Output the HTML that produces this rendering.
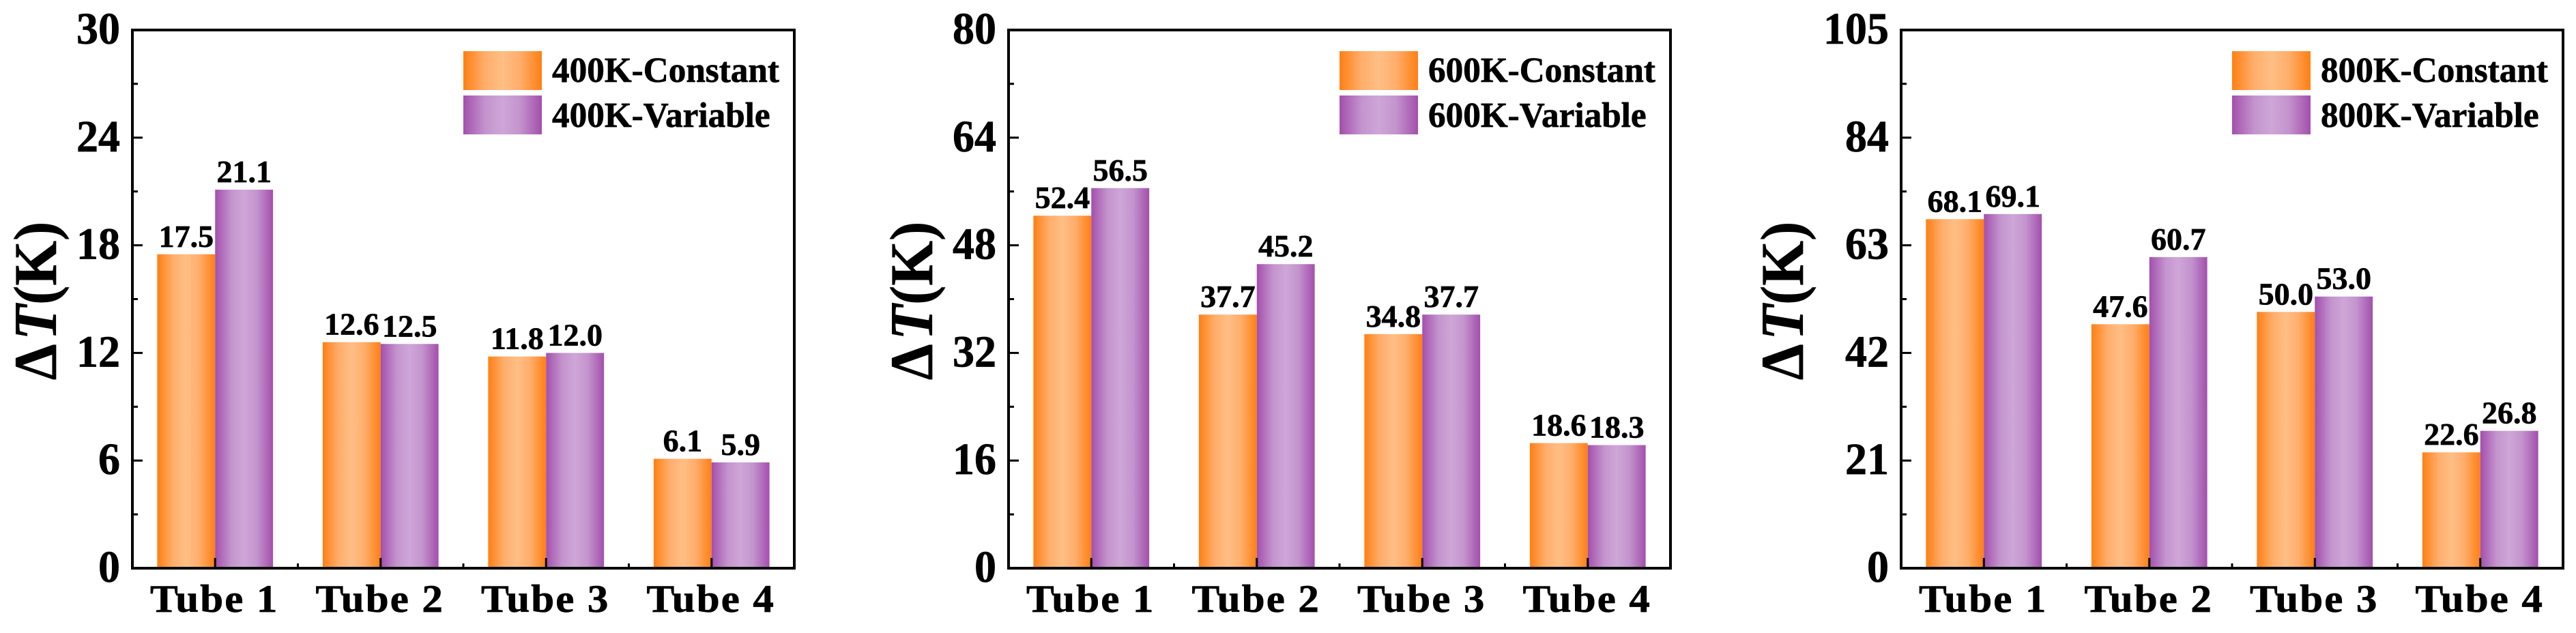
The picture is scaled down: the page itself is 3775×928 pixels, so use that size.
<!DOCTYPE html>
<html lang="en">
<head>
<meta charset="utf-8">
<title>Delta T by tube</title>
<style>
html,body{margin:0;padding:0;background:#fff;width:3775px;height:928px;overflow:hidden}
svg{display:block;font-family:"Liberation Serif",serif;font-weight:bold}
svg text{stroke:#000;stroke-width:0.7px}
</style>
</head>
<body>
<svg id="chart" xmlns="http://www.w3.org/2000/svg" width="3775" height="928" viewBox="0 0 3775 928">
<defs>
<linearGradient id="grad-orange" x1="0" x2="1" y1="0" y2="0">
<stop offset="0" stop-color="#ff7f13"/><stop offset="0.28" stop-color="#ffae6c"/><stop offset="0.5" stop-color="#ffbe85"/><stop offset="0.72" stop-color="#ffae6c"/><stop offset="1" stop-color="#ff7f13"/>
</linearGradient>
<linearGradient id="grad-purple" x1="0" x2="1" y1="0" y2="0">
<stop offset="0" stop-color="#a34fac"/><stop offset="0.28" stop-color="#c394cd"/><stop offset="0.5" stop-color="#cfa6d8"/><stop offset="0.72" stop-color="#c394cd"/><stop offset="1" stop-color="#a34fac"/>
</linearGradient>
</defs>
</svg>
<script>
const categories = ['Tube 1', 'Tube 2', 'Tube 3', 'Tube 4'];
const constant400 = [17.5, 12.6, 11.8, 6.1];
const variable400 = [21.1, 12.5, 12.0, 5.9];
const constant600 = [52.4, 37.7, 34.8, 18.6];
const variable600 = [56.5, 45.2, 37.7, 18.3];
const constant800 = [68.1, 47.6, 50.0, 22.6];
const variable800 = [69.1, 60.7, 53.0, 26.8];
const ticks400 = [0, 6, 12, 18, 24, 30];
const ticks600 = [0, 16, 32, 48, 64, 80];
const ticks800 = [0, 21, 42, 63, 84, 105];
const names400 = ['400K-Constant', '400K-Variable'];
const names600 = ['600K-Constant', '600K-Variable'];
const names800 = ['800K-Constant', '800K-Variable'];

const svg = document.getElementById('chart');
const NS = 'http://www.w3.org/2000/svg';
const TOP = 44, BOTTOM = 833, WIDTH = 970;

function make(parent, tag, attrs) {
  const el = document.createElementNS(NS, tag);
  for (const k in attrs) el.setAttribute(k, attrs[k]);
  parent.appendChild(el);
  return el;
}

function label(parent, x, y, str, size, anchor, sx) {
  const t = make(parent, 'text', {
    transform: 'translate(' + x + ',' + y + ') scale(' + sx + ',1)',
    'font-size': size, 'text-anchor': anchor, fill: '#000'
  });
  t.textContent = str;
  return t;
}

function drawPanel(key, left, titleX, constant, variable, ticks, names) {
  const maxVal = ticks[ticks.length - 1];
  const yScale = v => BOTTOM - v / maxVal * (BOTTOM - TOP);
  const step = WIDTH / categories.length;
  const barW = step * 0.35;
  const xCenter = i => left + step * (i + 0.5);

  const g = make(svg, 'g', {});
  
  

  categories.forEach((cat, i) => {
    const c = make(g, 'rect', {
      x: xCenter(i) - barW, y: yScale(constant[i]), width: barW,
      height: BOTTOM - yScale(constant[i]), fill: 'url(#grad-orange)'
    });
    
    
    const v = make(g, 'rect', {
      x: xCenter(i), y: yScale(variable[i]), width: barW,
      height: BOTTOM - yScale(variable[i]), fill: 'url(#grad-purple)'
    });
    
    
    const lc = label(g, xCenter(i) - barW / 2, yScale(constant[i]) - 11, constant[i].toFixed(1), 46, 'middle', 1);
    
    
    const lv = label(g, xCenter(i) + barW / 2, yScale(variable[i]) - 11, variable[i].toFixed(1), 46, 'middle', 1);
    
    
    const cl = label(g, xCenter(i) - 1, 897, cat, 57, 'middle', 1.07);
    cl.setAttribute('letter-spacing', '2');
    
    
    const xt = make(g, 'line', { x1: xCenter(i), x2: xCenter(i), y1: BOTTOM, y2: BOTTOM - 15, stroke: '#000', 'stroke-width': 3 });
    
    
    if (i > 0) {
      const xm = make(g, 'line', { x1: left + step * i, x2: left + step * i, y1: BOTTOM, y2: BOTTOM - 7, stroke: '#000', 'stroke-width': 3 });
      
      
    }
  });

  ticks.forEach((t, i) => {
    const y = yScale(t);
    const tl = make(g, 'line', { x1: left, x2: left + 15, y1: y, y2: y, stroke: '#000', 'stroke-width': 3 });
    
    
    const lb = label(g, left - 18, y + 20, String(t), 66, 'end', 0.97);
    
    
    if (i < ticks.length - 1) {
      const my = yScale((t + ticks[i + 1]) / 2);
      const ml = make(g, 'line', { x1: left, x2: left + 8, y1: my, y2: my, stroke: '#000', 'stroke-width': 3 });
      
      
    }
  });

  const frame = make(g, 'rect', { x: left, y: TOP, width: WIDTH, height: BOTTOM - TOP, fill: 'none', stroke: '#000', 'stroke-width': 4 });
  
  

  const title = make(g, 'text', {
    transform: 'translate(' + titleX + ',441) rotate(-90) scale(0.95,1)',
    'font-size': 89, 'text-anchor': 'middle', fill: '#000'
  });
  
  
  const d1 = make(title, 'tspan', {});
  d1.textContent = 'Δ';
  const d2 = make(title, 'tspan', { 'font-style': 'italic', dx: 6 });
  d2.textContent = 'T';
  const d3 = make(title, 'tspan', {});
  d3.textContent = '(K)';

  names.forEach((name, i) => {
    const sy = 75 + i * 65;
    const sw = make(g, 'rect', { x: left + 485, y: sy, width: 115, height: 57, fill: i === 0 ? 'url(#grad-orange)' : 'url(#grad-purple)' });
    
    
    const lt = label(g, left + 615, 120 + i * 66, name, 52, 'start', 0.985);
    
    
  });
}

drawPanel('400k', 194, 82, constant400, variable400, ticks400, names400);
drawPanel('600k', 1478, 1366, constant600, variable600, ticks600, names600);
drawPanel('800k', 2786, 2642, constant800, variable800, ticks800, names800);
</script>
</body>
</html>
